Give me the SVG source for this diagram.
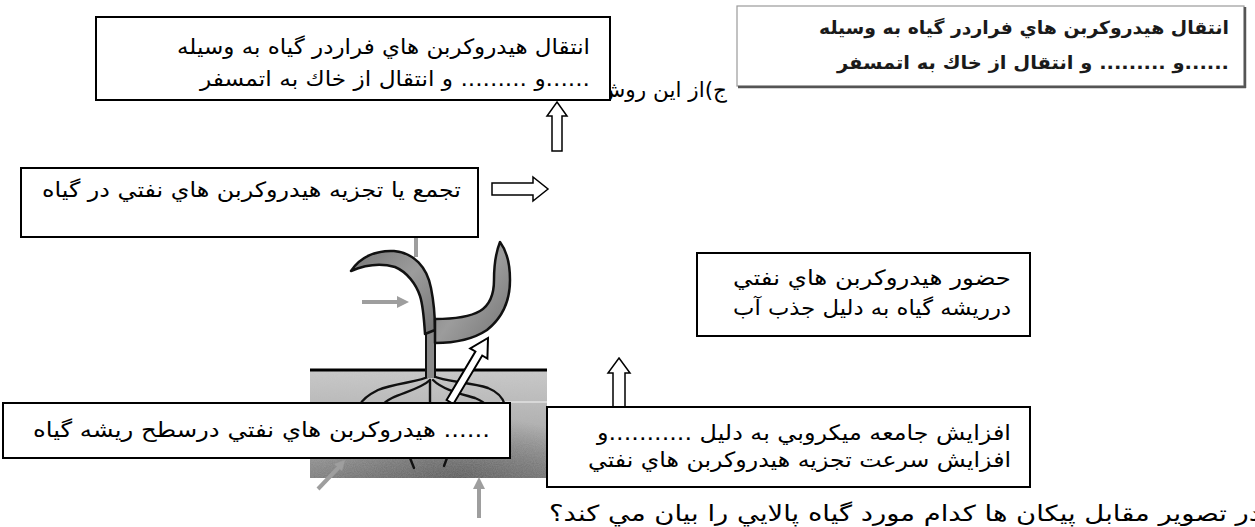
<svg xmlns="http://www.w3.org/2000/svg" width="1255" height="527" viewBox="0 0 1255 527">
<defs>
<style>
.box{fill:#fff;stroke:#000;stroke-width:2}
.t{font-family:'DejaVu Sans',sans-serif;font-size:21px;fill:#000}
.tb{font-family:'DejaVu Sans',sans-serif;font-size:18px;font-weight:bold;fill:#1a1a1a}
.hollow{fill:#fff;stroke:#000;stroke-width:1.5}
.gray{stroke:#9e9e9e;stroke-width:4;fill:none}
.grayhead{fill:#9e9e9e}
.root{fill:none;stroke:#111;stroke-width:2.4;stroke-linecap:round}
.leaf{fill:url(#leafGrad);stroke:#111;stroke-width:2.5;stroke-linejoin:round}
</style>
<linearGradient id="soilGrad" x1="0" y1="0" x2="0" y2="1">
<stop offset="0" stop-color="#cbcbcb"/>
<stop offset="0.5" stop-color="#b0b0b0"/>
<stop offset="1" stop-color="#7a7a7a"/>
</linearGradient>
<radialGradient id="soilDark" cx="0.62" cy="1" r="0.6">
<stop offset="0" stop-color="#444" stop-opacity="0.6"/>
<stop offset="1" stop-color="#444" stop-opacity="0"/>
</radialGradient>
<linearGradient id="leafGrad" x1="0" y1="0" x2="1" y2="1">
<stop offset="0" stop-color="#777"/>
<stop offset="0.5" stop-color="#9c9c9c"/>
<stop offset="1" stop-color="#747474"/>
</linearGradient>
<filter id="grain" x="0" y="0" width="100%" height="100%">
<feTurbulence type="fractalNoise" baseFrequency="0.9" numOctaves="2" seed="3" result="n"/>
<feColorMatrix in="n" type="matrix" values="0 0 0 0 0.5  0 0 0 0 0.5  0 0 0 0 0.5  0 0 0 0.35 0"/>
<feComposite in2="SourceGraphic" operator="in"/>
</filter>
<clipPath id="jclip"><rect x="611" y="70" width="200" height="50"/></clipPath>
</defs>
<rect width="1255" height="527" fill="#fff"/>

<g id="label-j">
<text class="t" clip-path="url(#jclip)" x="727" y="97" direction="rtl" text-anchor="start" textLength="128" lengthAdjust="spacingAndGlyphs">ج)از اين روش</text>
</g>

<g id="box-a">
<rect class="box" x="96" y="17" width="514" height="83"/>
<text class="t" x="590" y="54" direction="rtl" text-anchor="start" textLength="413" lengthAdjust="spacingAndGlyphs">انتقال هيدروكربن هاي فراردر گياه به وسيله</text>
<text class="t" x="590" y="86" direction="rtl" text-anchor="start" textLength="390" lengthAdjust="spacingAndGlyphs">......و ......... و انتقال از خاك به اتمسفر</text>
</g>

<g id="box-b">
<rect x="737" y="6" width="507" height="80" fill="#fff" stroke="#9a9a9a" stroke-width="1.2"/>
<line x1="1245" y1="7" x2="1245" y2="88" stroke="#555" stroke-width="2.5"/>
<line x1="738" y1="87" x2="1246" y2="87" stroke="#555" stroke-width="2.5"/>
<text class="tb" x="1229" y="34" direction="rtl" text-anchor="start" textLength="410" lengthAdjust="spacingAndGlyphs">انتقال هيدروكربن هاي فراردر گياه به وسيله</text>
<text class="tb" x="1229" y="69" direction="rtl" text-anchor="start" textLength="392" lengthAdjust="spacingAndGlyphs">......و ......... و انتقال از خاك به اتمسفر</text>
</g>

<g id="plant">
<rect x="310" y="370" width="237" height="108" fill="url(#soilGrad)"/>
<rect x="310" y="370" width="237" height="108" fill="url(#soilDark)"/>
<rect x="310" y="370" width="237" height="108" fill="#000" filter="url(#grain)"/>
<line x1="500" y1="402" x2="547" y2="402" stroke="#e2e2e2" stroke-width="1.5"/>
<line x1="310" y1="370" x2="547" y2="370" stroke="#000" stroke-width="3"/>
<path class="root" d="M430,376 C420,382 395,383 378,390 C368,395 362,400 360,405"/>
<path class="root" d="M430,380 C422,388 405,392 392,398 C386,401 383,404 382,406"/>
<path class="root" d="M433,376 C445,382 470,382 488,388 C498,392 503,398 505,405"/>
<path class="root" d="M433,380 C443,390 462,394 475,398 C482,401 486,404 487,406"/>
<path class="root" d="M430,380 L430,406"/>
<path class="root" d="M410,458 L414,468"/>
<path class="root" d="M447,458 L444,466"/>
<rect x="426" y="328" width="9" height="50" fill="#8a8a8a"/>
<line x1="426" y1="328" x2="426" y2="378" stroke="#111" stroke-width="2"/>
<line x1="435" y1="335" x2="435" y2="378" stroke="#111" stroke-width="2"/>
<path class="leaf" d="M351,271 C360,257 376,250 394,251 C414,253 427,267 431,288 C434,303 435,318 435,330 L425,334 C424,318 423,305 420,296 C416,284 407,272 395,267 C381,263 365,265 351,271 Z"/>
<path class="leaf" d="M435,343 C452,343 472,340 487,330 C502,318 510,300 510,280 C510,262 506,250 500,242 C496,252 494,265 494,280 C494,295 490,305 480,311 C468,318 450,319 435,319 Z"/>
<line class="gray" x1="416" y1="237" x2="416" y2="257" stroke-width="3"/>
<line class="gray" x1="362" y1="302" x2="399" y2="302"/>
<polygon class="grayhead" points="397,296 409,302 397,308"/>
<line class="gray" x1="318" y1="489" x2="339" y2="467"/>
<polygon class="grayhead" points="345,460 342,471 334,464"/>
<line class="gray" x1="479" y1="518" x2="479" y2="487"/>
<polygon class="grayhead" points="473,489 479,477 485,489"/>
<polygon points="446.6,400 475.4,351.5 470.2,348.4 488,338 487.4,358.6 482.2,355.5 453.4,404" fill="#fff" stroke="#000" stroke-width="2" stroke-linejoin="miter"/>
</g>

<g id="connectors">
<polygon class="hollow" points="557,102 567,116 562,116 562,151 552,151 552,116 547,116"/>
<polygon class="hollow" points="492,183 533,183 533,177 548,189 533,201 533,195 492,195"/>
<polygon class="hollow" points="619,358 630,373 625,373 625,407 613,407 613,373 608,373"/>
</g>

<g id="box-c">
<rect class="box" x="21" y="168" width="457" height="69"/>
<text class="t" x="461" y="197" direction="rtl" text-anchor="start" textLength="419" lengthAdjust="spacingAndGlyphs">تجمع يا تجزيه هيدروكربن هاي نفتي در گياه</text>
</g>

<g id="box-f">
<rect class="box" x="697" y="253" width="333" height="83"/>
<text class="t" x="1011" y="285" direction="rtl" text-anchor="start" textLength="278" lengthAdjust="spacingAndGlyphs">حضور  هيدروكربن هاي نفتي</text>
<text class="t" x="1011" y="315" direction="rtl" text-anchor="start" textLength="278" lengthAdjust="spacingAndGlyphs">درريشه گياه به دليل جذب آب</text>
</g>

<g id="box-d">
<rect class="box" x="3" y="403" width="507" height="55"/>
<text class="t" x="490" y="437" direction="rtl" text-anchor="start" textLength="457" lengthAdjust="spacingAndGlyphs">...... هيدروكربن هاي نفتي درسطح ريشه گياه</text>
</g>

<g id="box-e">
<rect class="box" x="547" y="407" width="483" height="80"/>
<text class="t" x="1011" y="440" direction="rtl" text-anchor="start" textLength="414" lengthAdjust="spacingAndGlyphs">افزايش جامعه ميكروبي به دليل ...........و</text>
<text class="t" x="1011" y="467" direction="rtl" text-anchor="start" textLength="423" lengthAdjust="spacingAndGlyphs">افزايش سرعت تجزيه  هيدروكربن هاي نفتي</text>
</g>

<g id="question">
<text class="t" style="font-size:22px" x="1261" y="521" direction="rtl" text-anchor="start" textLength="712" lengthAdjust="spacingAndGlyphs">در تصوير مقابل پيكان ها كدام مورد گياه پالايي را بيان مي كند؟</text>
</g>
</svg>
